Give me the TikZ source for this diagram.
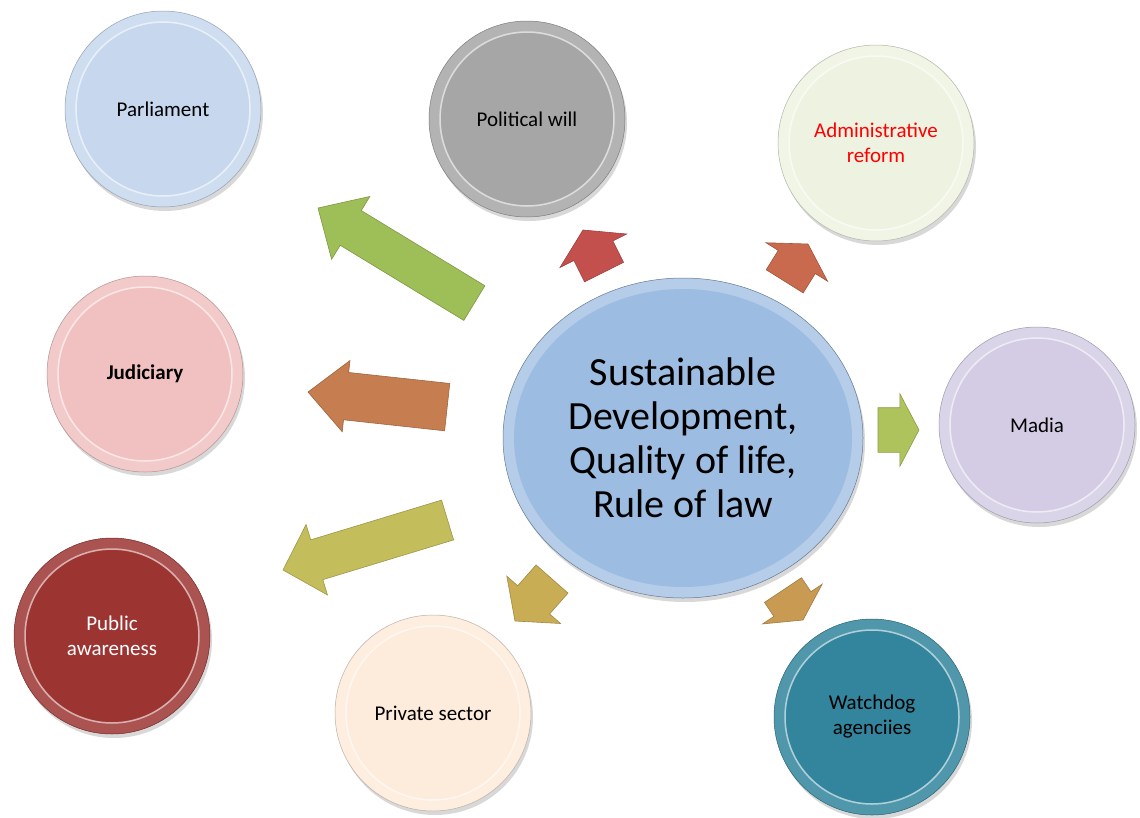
\documentclass[tikz,border=0pt]{standalone}
\usepackage{fontspec}
\setmainfont{Carlito}
\usepackage{tikz}
\usetikzlibrary{shapes.geometric,shapes.arrows,shadows}

% bubble colours
\definecolor{parlblue}{HTML}{C6D7EE}
\definecolor{polgray}{HTML}{A6A6A6}
\definecolor{admcream}{HTML}{EEF3E1}
\definecolor{madlilac}{HTML}{D3CCE4}
\definecolor{judpink}{HTML}{F1C1C1}
\definecolor{pubred}{HTML}{9C3532}
\definecolor{privpeach}{HTML}{FDEBDB}
\definecolor{watchteal}{HTML}{32859C}
\definecolor{hubblue}{HTML}{9DBCE1}
% arrow colours
\definecolor{arrgreen}{HTML}{9EBE58}
\definecolor{arrred}{HTML}{C4504D}
\definecolor{arrcoral}{HTML}{C96A4E}
\definecolor{arrbrown}{HTML}{C67E50}
\definecolor{arrolive}{HTML}{C4BD5C}
\definecolor{arrlime}{HTML}{AEC35B}
\definecolor{arrgold}{HTML}{C8AD55}
\definecolor{arrtan}{HTML}{C99A52}

\begin{document}
\begin{tikzpicture}[x=1pt,y=-1pt,
  bubble/.style={circle, minimum size=196pt, inner sep=0pt, align=center,
    font=\fontsize{21}{25}\selectfont, draw=#1!75!black, line width=0.5pt,
    fill=#1!85!white,
    path picture={\fill[#1] (path picture bounding box.center) circle (86pt);
      \draw[white, opacity=0.55, line width=1.5pt] (path picture bounding box.center) circle (87pt);},
    drop shadow={opacity=0.3, shadow xshift=2pt, shadow yshift=-4pt}},
  hub/.style={ellipse, minimum width=360pt, minimum height=320pt, inner sep=0pt, align=center,
    font=\fontsize{40}{44}\selectfont, draw=hubblue!65!black, line width=0.5pt,
    fill=hubblue!75!white,
    path picture={\fill[hubblue] (path picture bounding box.center) ellipse [x radius=169pt, y radius=149pt];},
    drop shadow={opacity=0.3, shadow xshift=2pt, shadow yshift=-4pt}},
  bigarrow/.style={single arrow, anchor=tip, inner xsep=0pt, outer sep=0pt,
    fill=#1, draw=#1!80!black, line width=0.6pt}]

\useasboundingbox (0,0) rectangle (1140,817);
\fill[white] (0,0) rectangle (1140,817);

% centre
\node[hub] (hub) at (683,438) {Sustainable\\Development,\\Quality of life,\\Rule of law};

% outer bubbles
\node[bubble=parlblue] (parl) at (163,109) {Parliament};
\node[bubble=polgray] (polwill) at (527,119) {Political will};
\node[bubble=admcream, text=red] (admin) at (876,143) {Administrative\\reform};
\node[bubble=madlilac] (madia) at (1037,425) {Madia};
\node[bubble=judpink, font=\fontsize{21}{25}\selectfont\bfseries] (jud) at (145,374) {Judiciary};
\node[bubble=pubred, text=white] (public) at (112,636) {Public\\awareness};
\node[bubble=privpeach] (private) at (433,713) {Private sector};
\node[bubble=watchteal] (watch) at (872,717) {Watchdog\\agenciies};

% block arrows (placed by their tips, shaft half width = inner ysep)
\node[bigarrow=arrgreen, rotate=148.7, minimum height=183pt, inner ysep=20pt,
  single arrow head extend=16.5pt, single arrow tip angle=87.7] (toparl) at (318,208) {};
\node[bigarrow=arrred, rotate=116.6, minimum height=47pt, inner ysep=21.5pt,
  single arrow head extend=15.5pt, single arrow tip angle=116.3] (topol) at (583,230) {};
\node[bigarrow=arrcoral, rotate=58, minimum height=44pt, inner ysep=21.5pt,
  single arrow head extend=14.5pt, single arrow tip angle=119.4] (toadmin) at (808,244) {};
\node[bigarrow=arrbrown, rotate=173.8, minimum height=140pt, inner ysep=23.5pt,
  single arrow head extend=12pt, single arrow tip angle=86.1] (tojud) at (308,392) {};
\node[bigarrow=arrolive, rotate=196.9, minimum height=172pt, inner ysep=20.5pt,
  single arrow head extend=16pt, single arrow tip angle=92.4] (topublic) at (283,570) {};
\node[bigarrow=arrlime, rotate=0, minimum height=41pt, inner ysep=22pt,
  single arrow head extend=14pt, single arrow tip angle=124.4] (tomadia) at (919,430) {};
\node[bigarrow=arrgold, rotate=228.6, minimum height=56pt, inner ysep=21pt,
  single arrow head extend=14.5pt, single arrow tip angle=103.5] (toprivate) at (515,621) {};
\node[bigarrow=arrtan, rotate=-56.3, minimum height=36pt, inner ysep=22pt,
  single arrow head extend=13.5pt, single arrow tip angle=123.7] (towatch) at (803,620) {};

\end{tikzpicture}
\end{document}
